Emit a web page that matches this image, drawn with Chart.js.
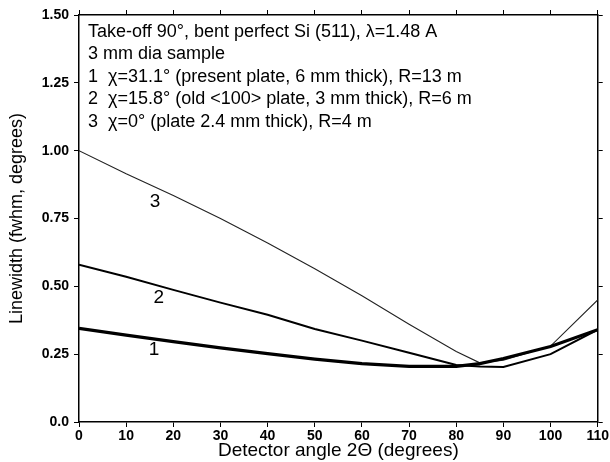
<!DOCTYPE html>
<html>
<head>
<meta charset="utf-8">
<script src="https://cdn.jsdelivr.net/npm/chart.js@4"></script>
<style>
    html, body { margin: 0; padding: 0; background: #fff; }
    #box { width: 610px; height: 462px; }
</style>
</head>
<body>
<div id="box"><canvas id="chartDisplay"></canvas></div>
<script>
"use strict";

// Detector angles (degrees) and linewidths
var angles = [0, 10, 20, 30, 40, 50, 60, 70, 80, 85, 90, 100, 110];
var curve1 = [0.345, 0.32, 0.296, 0.273, 0.252, 0.232, 0.215, 0.205, 0.205, 0.215, 0.234, 0.278, 0.34];
var curve2 = [0.58, 0.535, 0.487, 0.44, 0.395, 0.343, 0.30, 0.255, 0.21, 0.205, 0.203, 0.25, 0.34];
var curve3 = [1.00, 0.915, 0.835, 0.75, 0.66, 0.565, 0.465, 0.36, 0.26, 0.218, 0.228, 0.28, 0.45];

var yTicks = [0, 0.25, 0.5, 0.75, 1.0, 1.25, 1.5];
var yTickLabels = ['0.0', '0.25', '0.50', '0.75', '1.00', '1.25', '1.50'];

var noteLines = [
    'Take-off 90°, bent perfect Si (511), λ=1.48 A',
    '3 mm dia sample',
    '1  χ=31.1° (present plate, 6 mm thick), R=13 m',
    '2  χ=15.8° (old <100> plate, 3 mm thick), R=6 m',
    '3  χ=0° (plate 2.4 mm thick), R=4 m'
];

// curve number labels: [text, angle, linewidth]
var curveLabels = [['3', 16.1, 0.81], ['2', 16.9, 0.457], ['1', 15.9, 0.265]];

function toPoints(ys) {
    return angles.map(function (a, i) { return { x: a, y: ys[i] }; });
}

Chart.defaults.font.family = "'Liberation Sans', Arial, sans-serif";
Chart.defaults.color = '#000';

var frameGrid = { drawOnChartArea: false, drawTicks: true, tickLength: 5, color: '#000', lineWidth: 1 };
var frameBorder = { display: true, color: '#000', width: 1.5 };

// Draws the notes and curve numbers on top
var notesPlugin = {
    id: 'notes',
    afterDraw: function (chart) {
        var ctx = chart.ctx;
        var area = chart.chartArea;
        ctx.save();
        ctx.fillStyle = '#000';
        ctx.font = "18px 'Liberation Sans', Arial, sans-serif";
        ctx.textBaseline = 'middle';
        ctx.textAlign = 'left';
        noteLines.forEach(function (line, i) {
            ctx.fillText(line, area.left + 9, area.top + 17 + i * 22.4);
        });
        ctx.font = "19px 'Liberation Sans', Arial, sans-serif";
        ctx.textAlign = 'center';
        curveLabels.forEach(function (c) {
            ctx.fillText(c[0], chart.scales.x.getPixelForValue(c[1]), chart.scales.y.getPixelForValue(c[2]));
        });
        ctx.restore();
    }
};

var chart = new Chart(document.getElementById('chartDisplay').getContext('2d'), {
    type: 'line',
    data: {
        datasets: [
            { label: '1', data: toPoints(curve1), borderColor: '#000', borderWidth: 3.2, pointRadius: 0, tension: 0 },
            { label: '2', data: toPoints(curve2), borderColor: '#000', borderWidth: 2, pointRadius: 0, tension: 0 },
            { label: '3', data: toPoints(curve3), borderColor: '#222', borderWidth: 1.1, pointRadius: 0, tension: 0 }
        ]
    },
    options: {
        responsive: true,
        maintainAspectRatio: false,
        animation: false,
        layout: { padding: 0 },
        plugins: { legend: { display: false }, tooltip: { enabled: false } },
        scales: {
            x: {
                type: 'linear', position: 'bottom', min: 0, max: 110,
                grid: frameGrid, border: frameBorder,
                ticks: { stepSize: 10, padding: 1, maxRotation: 0, font: { size: 14, weight: 'bold' } },
                title: { display: true, text: 'Detector angle 2Θ (degrees)', font: { size: 19 }, padding: { top: 0, bottom: 0 } },
                afterFit: function (s) { s.height = 40; }
            },
            x2: {
                type: 'linear', position: 'top', min: 0, max: 110,
                grid: frameGrid, border: frameBorder,
                ticks: { stepSize: 10, display: false },
                afterFit: function (s) { s.height = 15; }
            },
            y: {
                type: 'linear', position: 'left', min: 0, max: 1.5,
                grid: frameGrid, border: frameBorder,
                afterBuildTicks: function (s) { s.ticks = yTicks.map(function (v) { return { value: v }; }); },
                ticks: {
                    padding: 5, font: { size: 14, weight: 'bold' },
                    callback: function (v) { return yTickLabels[yTicks.indexOf(v)]; }
                },
                title: { display: true, text: 'Linewidth (fwhm, degrees)', font: { size: 18 }, padding: { top: 6, bottom: 2 } },
                afterFit: function (s) { s.width = 79; }
            },
            y2: {
                type: 'linear', position: 'right', min: 0, max: 1.5,
                grid: frameGrid, border: frameBorder,
                afterBuildTicks: function (s) { s.ticks = yTicks.map(function (v) { return { value: v }; }); },
                ticks: { display: false },
                afterFit: function (s) { s.width = 11; }
            }
        }
    },
    plugins: [notesPlugin]
});
</script>
</body>
</html>
